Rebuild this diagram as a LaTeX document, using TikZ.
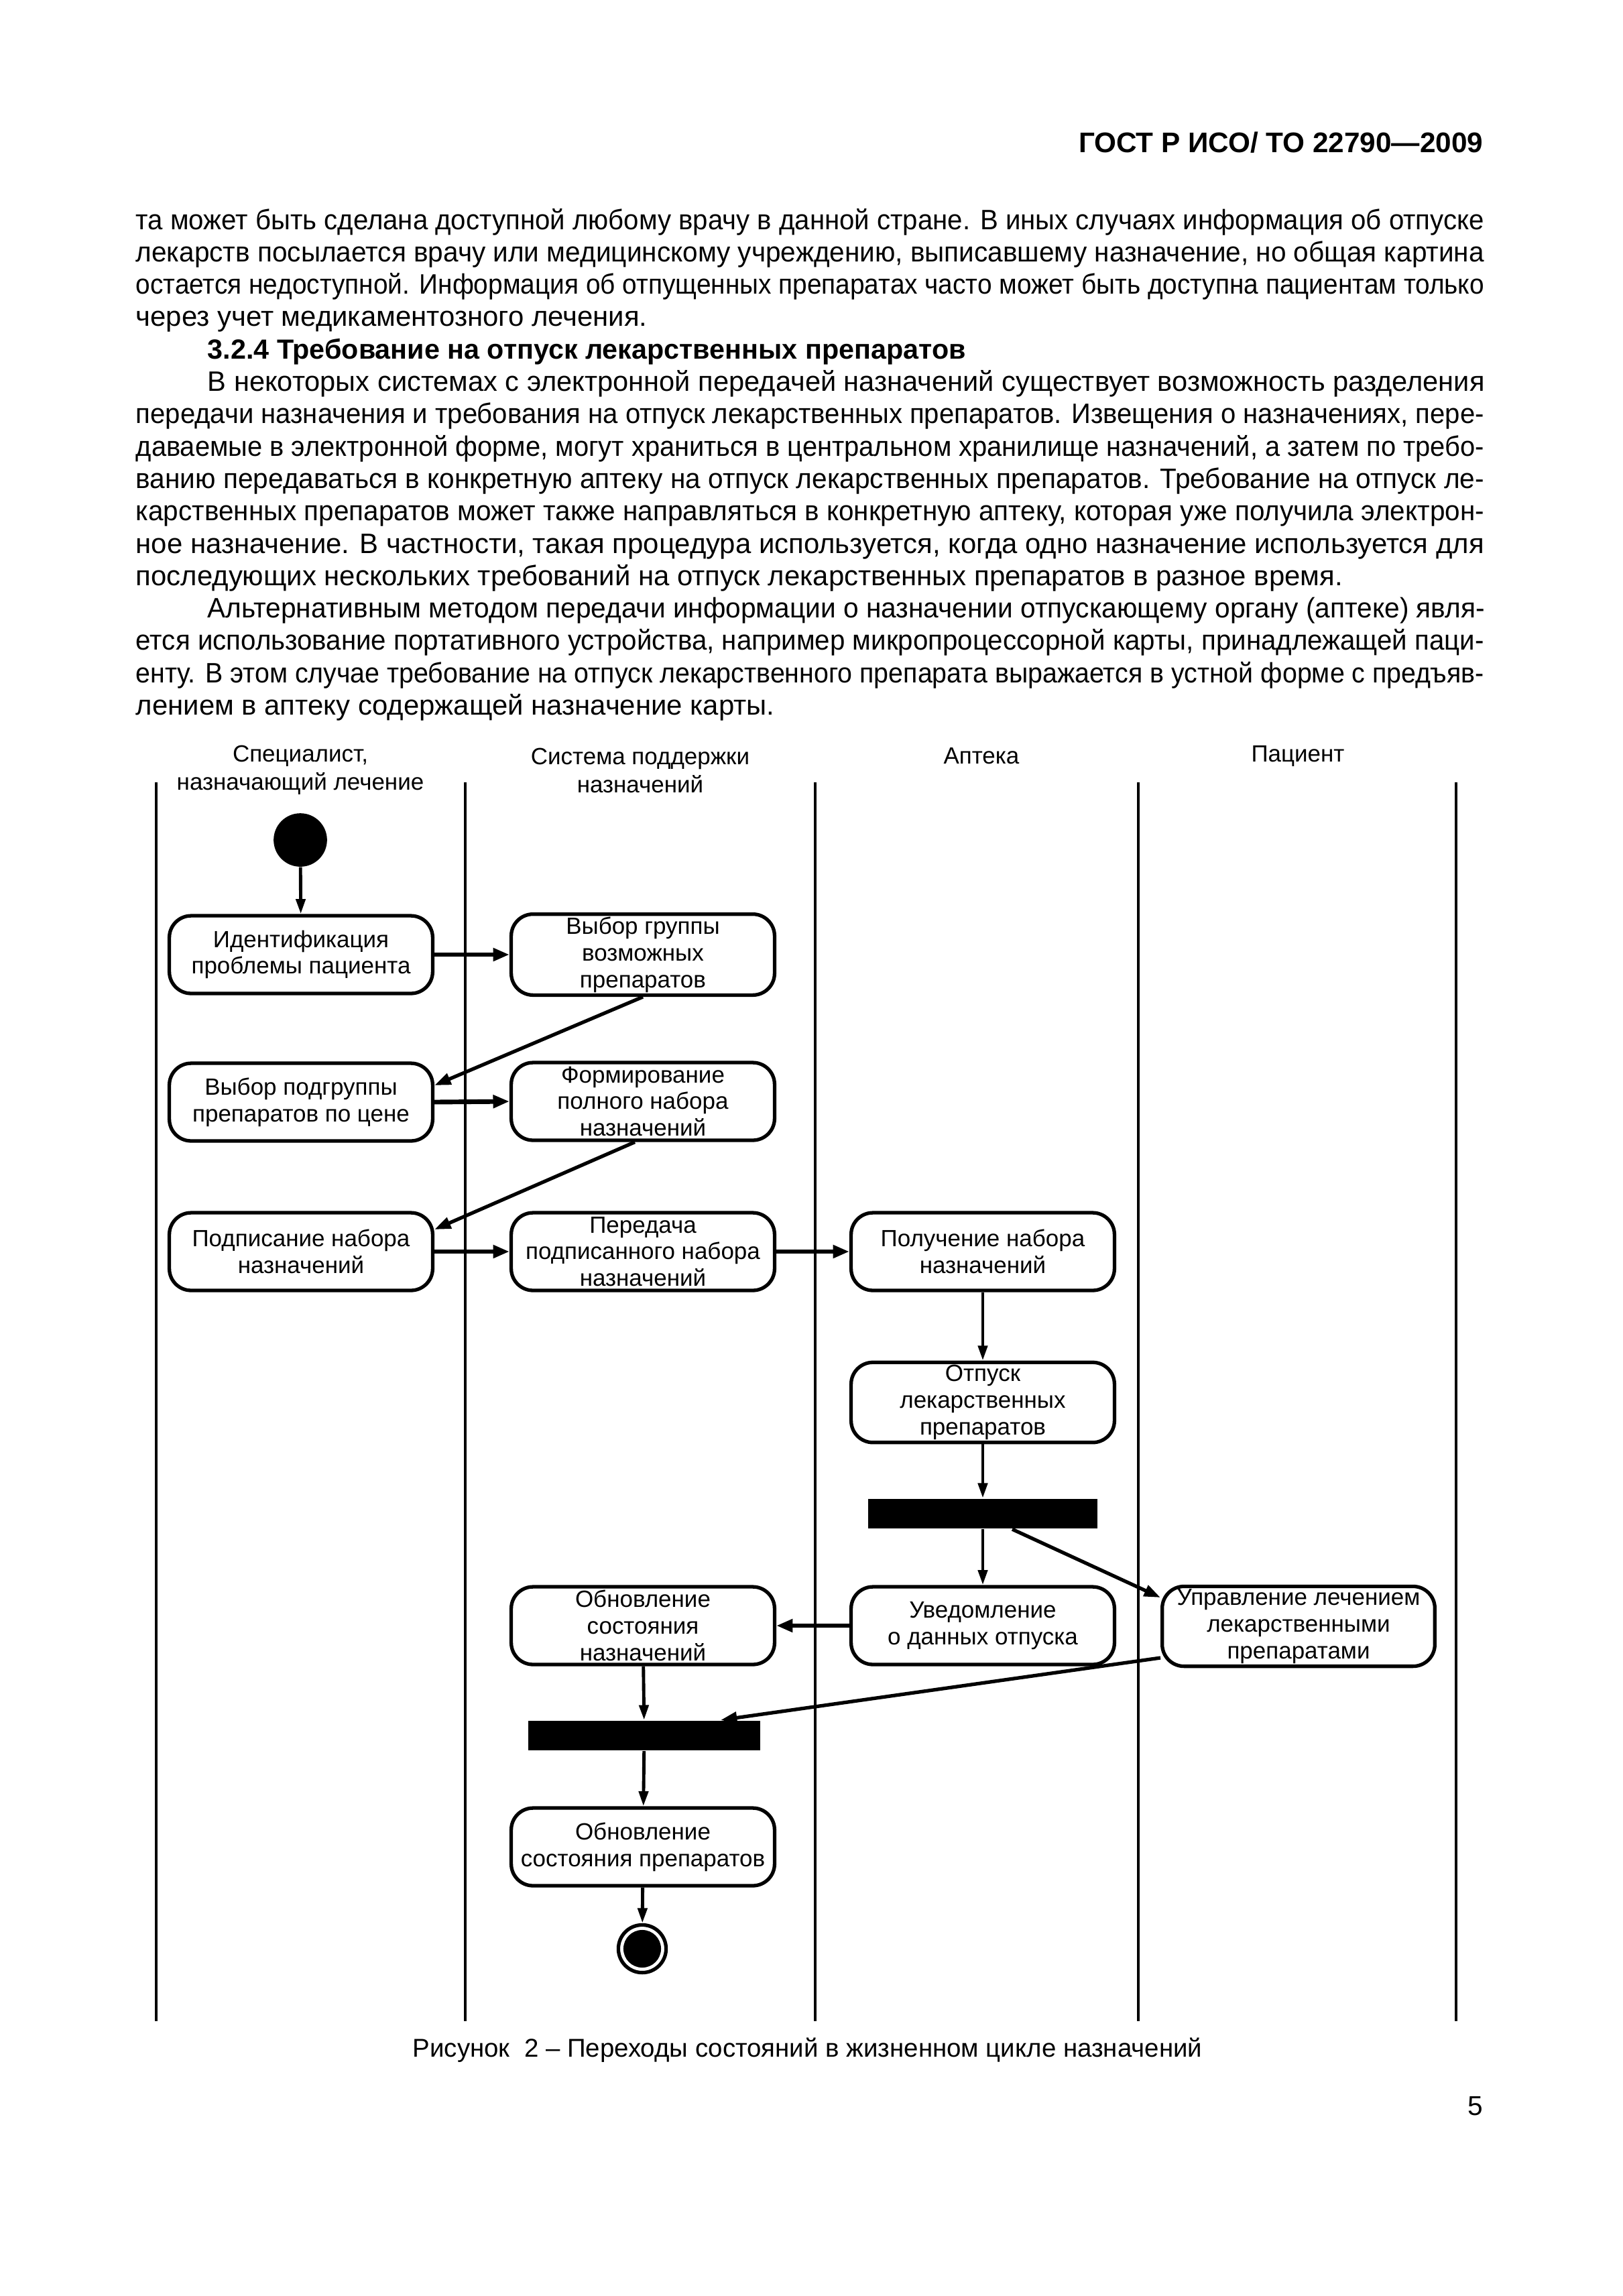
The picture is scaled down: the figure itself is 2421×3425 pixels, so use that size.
\documentclass[tikz,border=0pt]{standalone}
\usepackage{fontspec}
\setmainfont{Liberation Sans}
\usetikzlibrary{arrows.meta,calc}
\newlength\bw \setlength\bw{494.5pt}
\newlength\iw \setlength\iw{468.4pt}
\newsavebox\jlbox
\newcommand\jl[2]{\sbox\jlbox{#2}\ifdim\wd\jlbox>#1\relax\resizebox{#1}{\height}{#2}\else\makebox[#1][s]{#2}\fi}
\tikzset{
  body/.style={anchor=base west, inner sep=0pt, font=\fontsize{10.3}{11.88}\selectfont},
  act/.style={draw, line width=1.3pt, rounded corners=8pt, minimum width=96.6pt, minimum height=28.5pt,
    inner sep=1pt, align=center, font=\fontsize{8.6}{9.8}\selectfont},
  syncbar/.style={fill=black, inner sep=0pt, minimum width=84pt, minimum height=11pt},
  lane/.style={line width=1pt},
  lanehead/.style={align=center, inner sep=0pt, font=\fontsize{8.6}{10.3}\selectfont},
  flow/.style={line width=1.2pt, -{Triangle[length=5.5pt,width=3.4pt]}},
  flowh/.style={line width=1.7pt, -{Triangle[length=6pt,width=4.6pt]}},
  flowd/.style={line width=1.3pt, -{Triangle[length=6pt,width=4.2pt]}},
}
\begin{document}
\begin{tikzpicture}[x=0.2459pt,y=-0.2459pt]
\fill[white] (0,0) rectangle (2421,3425);
\useasboundingbox (0,0) rectangle (2421,3425);

% header
\node[anchor=base east, inner sep=0pt, font=\fontsize{10.4}{12}\selectfont\bfseries] (hdr) at (2213,227) {ГОСТ Р ИСО/ ТО 22790—2009};

% body text
\node[body] (l1) at (202,342) {\jl{\bw}{та может быть сделана доступной любому врачу в данной стране. В иных случаях информация об отпуске}};
\node[body] (l2) at (202,390.3) {\jl{\bw}{лекарств посылается врачу или медицинскому учреждению, выписавшему назначение, но общая картина}};
\node[body] (l3) at (202,438.6) {\jl{\bw}{остается недоступной. Информация об отпущенных препаратах часто может быть доступна пациентам только}};
\node[body] (l4) at (202,486.9) {через учет медикаментозного лечения.};
\node[body, font=\fontsize{10.15}{11.88}\selectfont\bfseries] (l5) at (309,535.2) {3.2.4 Требование на отпуск лекарственных препаратов};
\node[body] (l6) at (309,583.5) {\jl{\iw}{В некоторых системах с электронной передачей назначений существует возможность разделения}};
\node[body] (l7) at (202,631.8) {\jl{\bw}{передачи назначения и требования на отпуск лекарственных препаратов. Извещения о назначениях, пере-}};
\node[body] (l8) at (202,680.1) {\jl{\bw}{даваемые в электронной форме, могут храниться в центральном хранилище назначений, а затем по требо-}};
\node[body] (l9) at (202,728.4) {\jl{\bw}{ванию передаваться в конкретную аптеку на отпуск лекарственных препаратов. Требование на отпуск ле-}};
\node[body] (l10) at (202,776.7) {\jl{\bw}{карственных препаратов может также направляться в конкретную аптеку, которая уже получила электрон-}};
\node[body] (l11) at (202,825) {\jl{\bw}{ное назначение. В частности, такая процедура используется, когда одно назначение используется для}};
\node[body] (l12) at (202,873.3) {последующих нескольких требований на отпуск лекарственных препаратов в разное время.};
\node[body] (l13) at (309,921.6) {\jl{\iw}{Альтернативным методом передачи информации о назначении отпускающему органу (аптеке) явля-}};
\node[body] (l14) at (202,969.9) {\jl{\bw}{ется использование портативного устройства, например микропроцессорной карты, принадлежащей паци-}};
\node[body] (l15) at (202,1018.2) {\jl{\bw}{енту. В этом случае требование на отпуск лекарственного препарата выражается в устной форме с предъяв-}};
\node[body] (l16) at (202,1066.5) {лением в аптеку содержащей назначение карты.};

% swimlanes
\foreach \x in {233,694,1216,1698,2172} \draw[lane] (\x,1167) -- (\x,3015);
\node[lanehead] (h1) at (448,1149) {Специалист,\\назначающий лечение};
\node[lanehead] (h2) at (955,1149) {Система поддержки\\назначений};
\node[lanehead] (h3) at (1464,1128) {Аптека};
\node[lanehead] (h4) at (1936,1128) {Пациент};

% nodes
\node[circle, fill=black, minimum size=19.6pt, inner sep=0pt] (start) at (448,1253) {};
\node[act] (b1) at (449,1424) {Идентификация\\проблемы пациента};
\node[act] (b2) at (959,1424) {Выбор группы\\возможных\\препаратов};
\node[act] (b3) at (449,1644) {Выбор подгруппы\\препаратов по цене};
\node[act] (b4) at (959,1643) {Формирование\\полного набора\\назначений};
\node[act] (b5) at (449,1867) {Подписание набора\\назначений};
\node[act] (b6) at (959,1867) {Передача\\подписанного набора\\назначений};
\node[act] (b7) at (1466,1867) {Получение набора\\назначений};
\node[act] (b8) at (1466,2092) {Отпуск\\лекарственных\\препаратов};
\node[syncbar] (bar1) at (1466,2258) {};
\node[act] (b9) at (1466,2425) {Уведомление\\о данных отпуска};
\node[act, minimum width=100pt] (b10) at (1937,2426) {Управление лечением\\лекарственными\\препаратами};
\node[act] (b11) at (959,2425) {Обновление\\состояния\\назначений};
\node[syncbar, minimum width=85pt] (bar2) at (961,2589) {};
\node[act] (b12) at (959,2755) {Обновление\\состояния препаратов};
\node[circle, draw, line width=1.3pt, minimum size=17.5pt, inner sep=0pt] (end) at (958,2907) {};
\node[circle, fill=black, minimum size=13.8pt, inner sep=0pt] (endin) at (end) {};

% connectors
\draw[flow] (start) -- (b1);
\draw[flowh] (b1.east) -- (b2.west);
\draw[flowd] (b2.south) -- ($(b3.east)+(0,-25)$);
\draw[flowh] (b3.east) -- (b4.west);
\draw[flowd] ($(b4.south)+(-12,0)$) -- ($(b5.east)+(0,-33)$);
\draw[flowh] (b5.east) -- (b6.west);
\draw[flowh] (b6.east) -- (b7.west);
\draw[flow] (b7) -- (b8);
\draw[flow] (b8) -- (bar1);
\draw[flow] (bar1) -- (b9);
\draw[flowd] ($(bar1.south)+(44,0)$) -- ($(b10.west)+(0,-43)$);
\draw[flowh] (b9.west) -- (b11.east);
\draw[flowd] ($(b10.west)+(0,47)$) -- ($(bar2.north)+(114,0)$);
\draw[flow] (b11) -- (bar2);
\draw[flow] (bar2) -- (b12);
\draw[flow] (b12) -- (end);

% caption and page number
\node[anchor=base west, inner sep=0pt, font=\fontsize{9.45}{12}\selectfont] (cap) at (615,3068) {Рисунок\ \ 2 – Переходы состояний в жизненном цикле назначений};
\node[anchor=base east, inner sep=0pt, font=\fontsize{10}{12}\selectfont] (pg) at (2213,3155) {5};
\end{tikzpicture}
\end{document}
